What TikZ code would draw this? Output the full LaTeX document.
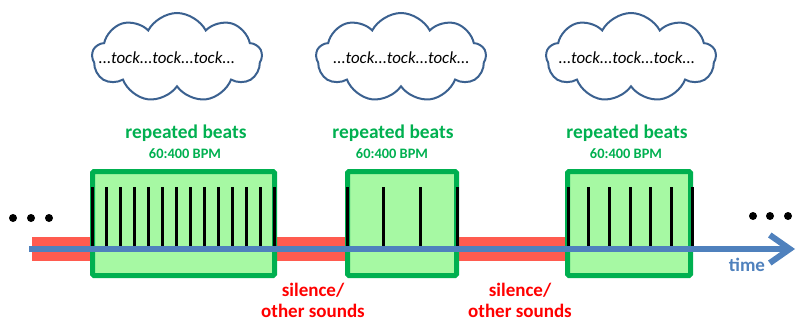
\documentclass[tikz,border=0pt]{standalone}
\usepackage{fontspec}
\setmainfont{Carlito}
\usetikzlibrary{shapes.symbols,arrows.meta}
\definecolor{boxgreen}{HTML}{00B050}
\definecolor{boxfill}{HTML}{A6F9A3}
\definecolor{bandred}{HTML}{FF5B4F}
\definecolor{timeblue}{HTML}{4F81BD}
\definecolor{cloudblue}{HTML}{3B6190}
\definecolor{textred}{HTML}{FF0000}
\begin{document}
\begin{tikzpicture}[x=1pt,y=-1pt,
  beatbox/.style={draw=boxgreen, fill=boxfill, line width=5pt, rounded corners=1.5pt,
                  inner sep=0pt, minimum height=104pt},
  beattick/.style={line width=3pt, black},
  thought/.style={cloud, draw=cloudblue, line width=2pt, fill=white,
                  cloud puffs=9, cloud puff arc=125, aspect=1.9,
                  minimum width=170pt, minimum height=89pt, inner sep=0pt},
  tocktext/.style={font=\fontsize{16.9}{20}\selectfont\itshape},
  beatlabel/.style={text=boxgreen, font=\fontsize{19.4}{22}\selectfont\bfseries},
  bpmlabel/.style={text=boxgreen, font=\fontsize{14.4}{17}\selectfont\bfseries},
  gaplabel/.style={text=textred, align=center, inner sep=0pt,
                   font=\fontsize{19}{21.5}\selectfont\bfseries},
  timeline/.style={draw=timeblue, line width=6pt,
                   -{Straight Barb[length=20pt, width=28pt, line width=6pt]}},
  dot/.style={fill=black}
]
\useasboundingbox (0,0) rectangle (798,324);

% silence / other sounds band
\fill[bandred] (32,237) rectangle (565,261);

% thought clouds
\node[thought] (c1) at (177,57.5) {};
\node[thought] (c2) at (401,57.5) {};
\node[thought] (c3) at (631,57.5) {};
\node[tocktext] (k1) at (167,58) {...tock...tock...tock...};
\node[tocktext] (k2) at (401.5,58) {...tock...tock...tock...};
\node[tocktext] (k3) at (627,58) {...tock...tock...tock...};

% labels above the beat boxes
\node[beatlabel] (r1) at (186,133) {repeated beats};
\node[bpmlabel]  (p1) at (185,154) {60:400 BPM};
\node[beatlabel] (r2) at (393,133) {repeated beats};
\node[bpmlabel]  (p2) at (392,154) {60:400 BPM};
\node[beatlabel] (r3) at (627,133) {repeated beats};
\node[bpmlabel]  (p3) at (626,154) {60:400 BPM};

% beat boxes
\node[beatbox, minimum width=182pt] (b1) at (183.5,223.5) {};
\node[beatbox, minimum width=109pt] (b2) at (402,223.5) {};
\node[beatbox, minimum width=123pt] (b3) at (629,223.5) {};

% beats
\foreach \i in {0,...,13} \draw[beattick] ({92+\i*14},187) -- ({92+\i*14},247);
\foreach \i in {0,...,3}  \draw[beattick] ({347+\i*36.67},187) -- ({347+\i*36.67},247);
\foreach \i in {0,...,6}  \draw[beattick] ({568+\i*20.67},187) -- ({568+\i*20.67},247);

% time axis
\coordinate (tstart) at (29,249);
\coordinate (tend) at (795,249);
\draw[timeline] (tstart) -- (tend);
\node[text=timeblue, font=\fontsize{19}{22}\selectfont\bfseries] (tl) at (747,265) {time};

% gap labels
\node[gaplabel] (s1) at (313,300.5) {silence/\\other sounds};
\node[gaplabel] (s2) at (520,300.5) {silence/\\other sounds};

% continuation dots
\foreach \x in {13,31,49} \fill[dot] (\x,218) circle (4pt);
\foreach \x in {753,770,788} \fill[dot] (\x,216) circle (4pt);
\end{tikzpicture}
\end{document}
